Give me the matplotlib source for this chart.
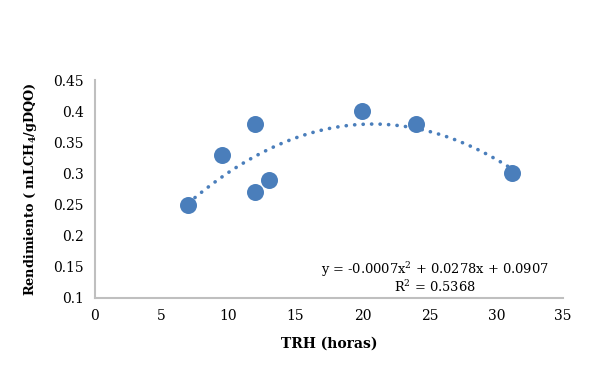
import matplotlib
matplotlib.use("Agg")
import matplotlib.pyplot as plt
import numpy as np
from matplotlib.ticker import FuncFormatter

# TRH (horas) vs rendimiento de metano
trh = [7, 9.5, 12, 12, 13, 20, 24, 31.2]
rendimiento = [0.25, 0.33, 0.38, 0.27, 0.29, 0.40, 0.38, 0.30]
eq_label = "y = -0.0007x$^{2}$ + 0.0278x + 0.0907\nR$^{2}$ = 0.5368"

plt.rcParams['font.family'] = ['DejaVu Serif']
plt.rcParams['mathtext.fontset'] = 'dejavuserif'

fig = plt.figure(figsize=(5.96, 3.71), dpi=100)
ax = fig.add_axes([0.159, 0.197, 0.786, 0.587])

color = '#4A7EBB'
ax.scatter(trh, rendimiento, s=150, color=color, zorder=3, linewidths=0)

# tendencia polinómica de orden 2
coef = np.polyfit(trh, rendimiento, 2)
xs = np.linspace(min(trh), max(trh), 200)
ax.plot(xs, np.polyval(coef, xs), color=color, lw=2.6,
        linestyle=(0, (0.05, 2.3)), dash_capstyle='round', zorder=2)

ax.set_xlim(0, 35)
ax.set_ylim(0.1, 0.45)
ax.set_xticks(range(0, 36, 5))
ax.set_yticks(np.arange(0.1, 0.451, 0.05))
ax.yaxis.set_major_formatter(FuncFormatter(lambda v, p: f"{v:g}"))
ax.tick_params(length=0, labelsize=10, pad=8)

for s in ['top', 'right']:
    ax.spines[s].set_visible(False)
for s in ['left', 'bottom']:
    ax.spines[s].set_color('#BFBFBF')
    ax.spines[s].set_linewidth(1.5)

ax.set_xlabel("TRH (horas)", fontsize=10, fontweight='bold', labelpad=10)
ax.set_ylabel("Rendimiento ( mLCH$_{\\mathbf{4}}$/gDQO)", fontsize=9.3,
              fontweight='bold', labelpad=10)

ax.text(25.4, 0.133, eq_label, ha='center', va='center', fontsize=9.4,
        linespacing=1.05)

fig.savefig("out.png", dpi=100)
